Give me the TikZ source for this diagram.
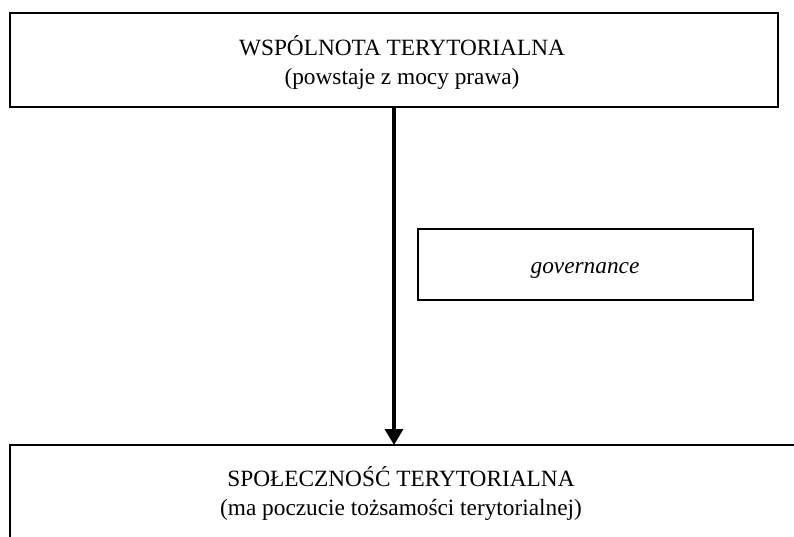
\documentclass[tikz,border=0pt]{standalone}
\usepackage{fontspec}
\setmainfont{Liberation Serif}
\usetikzlibrary{arrows.meta}
\tikzset{
  boxline/.style={draw=black, line width=2.6pt, inner sep=0pt, outer sep=0pt},
  txt/.style={font=\fontsize{23.3}{29}\selectfont, align=center, inner sep=0pt},
  arrowline/.style={line width=3.5pt, -{Triangle[width=18pt,length=16pt]}}
}
\begin{document}
\begin{tikzpicture}[x=1pt,y=-1pt]
\useasboundingbox (0,0) rectangle (794,537);
% top box
\node[boxline, minimum width=768pt, minimum height=94pt] (top) at (394,60) {};
\node[txt, anchor=base] (toptxt) at (402,84.5) {WSPÓLNOTA TERYTORIALNA\\(powstaje z mocy prawa)};
% governance box
\node[boxline, minimum width=335pt, minimum height=71pt] (gov) at (585.5,264.5) {};
\node[txt, anchor=base, font=\fontsize{23.3}{29}\selectfont\itshape] (govtxt) at (585,273) {governance};
% bottom box (cut off)
\coordinate (bl) at (10,537);
\coordinate (btl) at (10,445);
\coordinate (btr) at (794,445);
\coordinate (bt) at (394,445);
\draw[line width=2.6pt] (bl) -- (btl) -- (btr);
\node[txt, anchor=base] (bottxt) at (401,515) {SPOŁECZNOŚĆ TERYTORIALNA\\(ma poczucie tożsamości terytorialnej)};
% arrow
\draw[arrowline] (top.south) -- (bt);
\end{tikzpicture}
\end{document}
